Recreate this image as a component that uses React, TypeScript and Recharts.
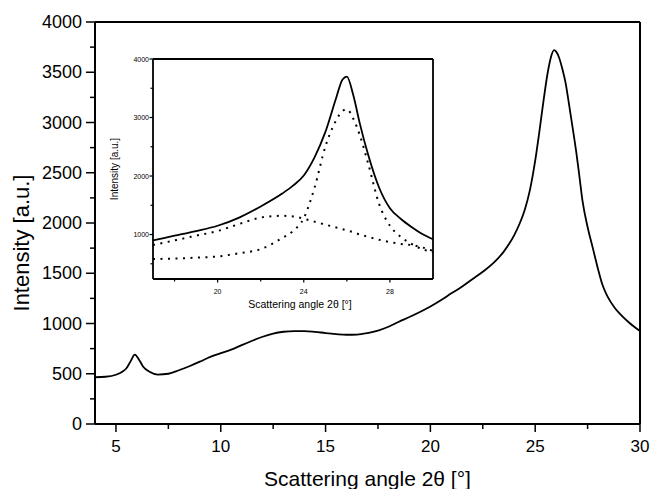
import React from 'react';
import { LineChart, Line, XAxis, YAxis, ReferenceLine } from 'recharts';

// main diffractogram
const angle = [
  4.0, 4.5, 5.0, 5.3, 5.5, 5.7, 5.9, 6.1, 6.3, 6.6, 7.0, 7.5, 8.0, 8.5, 9.0, 9.5,
  10.0, 10.5, 11.0, 11.5, 12.0, 12.5, 13.0, 13.5, 14.0, 14.5, 15.0, 15.5, 16.0, 16.5,
  17.0, 17.5, 18.0, 18.5, 19.0, 19.5, 20.0, 20.5, 21.0, 21.5, 22.0, 22.5, 23.0, 23.5,
  23.75, 24.0, 24.25, 24.5, 24.75, 25.0, 25.2, 25.4, 25.6, 25.75, 25.9, 26.0, 26.15, 26.3,
  26.45, 26.6, 26.8, 26.95, 27.1, 27.25, 27.5, 27.75, 28.0, 28.2, 28.4, 28.6, 28.8, 29.0,
  29.5, 30.0,
];
const intensity = [
  465, 470, 490, 520, 555, 625, 690, 640, 570, 520, 492, 500, 535, 575, 620, 668,
  705, 740, 785, 828, 868, 900, 918, 925, 925, 917, 905, 895, 888, 890,
  905, 930, 968, 1018, 1065, 1115, 1170, 1232, 1300, 1365, 1440, 1515, 1600, 1715,
  1790, 1880, 1990, 2130, 2330, 2620, 2910, 3220, 3500, 3650, 3720, 3705, 3640, 3530,
  3395, 3200, 2930, 2720, 2480, 2230, 1960, 1750, 1540, 1390, 1290, 1215, 1155, 1105,
  1005, 925,
];

// inset: fit of the main peak
const insetAngle = [
  17, 18, 19, 20, 21, 22, 23, 23.5, 24, 24.5, 25, 25.5, 25.8, 26, 26.3, 26.6,
  27, 27.5, 28, 28.5, 29, 29.5, 30,
];
const fitSum = [
  900, 980, 1060, 1150, 1290, 1480, 1700, 1835, 2010, 2320, 2750, 3330, 3650, 3700, 3380, 2900,
  2350, 1800, 1450, 1270, 1130, 1010, 920,
];
const fitPeak = [
  580, 590, 605, 625, 680, 750, 940, 1060, 1280, 1800, 2500, 2950, 3110, 3140, 2980, 2700,
  2200, 1520, 1150, 960, 840, 750, 700,
];
const fitBroad = [
  820, 900, 980, 1060, 1180, 1290, 1320, 1310, 1270, 1220, 1170, 1120, 1090, 1070, 1040, 1000,
  960, 910, 870, 840, 820, 780, 720,
];

const mainXTicks = [5, 7.5, 10, 12.5, 15, 17.5, 20, 22.5, 25, 27.5, 30];
const mainYTicks = [0, 250, 500, 750, 1000, 1250, 1500, 1750, 2000, 2250, 2500, 2750, 3000, 3250, 3500, 3750, 4000];
const insetXTicks = [18, 20, 22, 24, 26, 28];
const insetYTicks = [500, 1000, 1500, 2000, 2500, 3000, 3500, 4000];

const mainData = angle.map((a, i) => ({ angle: a, intensity: intensity[i] }));
const insetData = insetAngle.map((a, i) => ({ angle: a, sum: fitSum[i], peak: fitPeak[i], broad: fitBroad[i] }));

const FONT = 'Arial, "Liberation Sans", sans-serif';

const MainXTick = (props: any) => {
  const { x, y, payload } = props;
  const major = payload.value % 5 === 0;
  return (
    <g>
      <line x1={x} y1={y} x2={x} y2={y + (major ? 8 : 5)} stroke="#000" strokeWidth={1.5} />
      {major && (
        <text x={x} y={y + 28} textAnchor="middle" fontSize={17} fontFamily={FONT} fill="#000">
          {payload.value}
        </text>
      )}
    </g>
  );
};

const MainYTick = (props: any) => {
  const { x, y, payload } = props;
  const major = payload.value % 500 === 0;
  return (
    <g>
      <line x1={x} y1={y} x2={x - (major ? 9 : 5)} y2={y} stroke="#000" strokeWidth={1.5} />
      {major && (
        <text x={x - 13} y={y + 6} textAnchor="end" fontSize={18} fontFamily={FONT} fill="#000">
          {payload.value}
        </text>
      )}
    </g>
  );
};

const InsetXTick = (props: any) => {
  const { x, y, payload } = props;
  const major = payload.value % 4 === 0;
  return (
    <g>
      <line x1={x} y1={y} x2={x} y2={y + (major ? 3.5 : 2.5)} stroke="#000" strokeWidth={1.2} />
      {major && (
        <text x={x} y={y + 15} textAnchor="middle" fontSize={7} fontFamily={FONT} fill="#000">
          {payload.value}
        </text>
      )}
    </g>
  );
};

const InsetYTick = (props: any) => {
  const { x, y, payload } = props;
  const major = payload.value % 1000 === 0;
  return (
    <g>
      <line x1={x} y1={y} x2={x - (major ? 3.5 : 2.5)} y2={y} stroke="#000" strokeWidth={1.2} />
      {major && (
        <text x={x - 4} y={y + 2.5} textAnchor="end" fontSize={7} fontFamily={FONT} fill="#000">
          {payload.value}
        </text>
      )}
    </g>
  );
};

export default function App() {
  return (
    <div style={{ position: 'absolute', left: 0, top: 0, width: 654, height: 489, background: '#fff' }}>
      <LineChart width={654} height={489} data={mainData} margin={{ top: 22, right: 14, bottom: 0, left: 0 }}>
        <XAxis
          dataKey="angle"
          type="number"
          domain={[4, 30]}
          ticks={mainXTicks}
          interval={0}
          height={65}
          tickSize={0}
          tickMargin={0}
          tickLine={false}
          axisLine={{ stroke: '#000', strokeWidth: 2 }}
          tick={(p: any) => <MainXTick {...p} />}
          label={(p: any) => {
            const vb = p.viewBox;
            return (
              <text x={vb.x + vb.width / 2} y={vb.y + 62} textAnchor="middle" fontSize={21} fontFamily={FONT} fill="#000">
                Scattering angle 2θ [°]
              </text>
            );
          }}
        />
        <YAxis
          type="number"
          domain={[0, 4000]}
          ticks={mainYTicks}
          interval={0}
          width={95}
          tickSize={0}
          tickMargin={0}
          tickLine={false}
          axisLine={{ stroke: '#000', strokeWidth: 2 }}
          tick={(p: any) => <MainYTick {...p} />}
          label={(p: any) => {
            const vb = p.viewBox;
            const cx = vb.x + 29;
            const cy = vb.y + vb.height / 2 + 20;
            return (
              <text x={cx} y={cy} transform={`rotate(-90 ${cx} ${cy})`} textAnchor="middle" fontSize={22} fontFamily={FONT} fill="#000">
                Intensity [a.u.]
              </text>
            );
          }}
        />
        <ReferenceLine y={4000} stroke="#000" strokeWidth={2} />
        <ReferenceLine x={30} stroke="#000" strokeWidth={2} />
        <Line type="monotone" dataKey="intensity" stroke="#000" strokeWidth={1.8} dot={false} isAnimationActive={false} />
      </LineChart>

      <div style={{ position: 'absolute', left: 100, top: 50 }}>
        <LineChart width={340} height={270} data={insetData} margin={{ top: 9, right: 7, bottom: 0, left: 0 }}>
          <XAxis
            dataKey="angle"
            type="number"
            domain={[17, 30]}
            ticks={insetXTicks}
            interval={0}
            height={41}
            tickSize={0}
            tickMargin={0}
            tickLine={false}
            axisLine={{ stroke: '#000', strokeWidth: 1.8 }}
            tick={(p: any) => <InsetXTick {...p} />}
            label={(p: any) => {
              const vb = p.viewBox;
              return (
                <text x={vb.x + vb.width / 2 + 7} y={vb.y + 29} textAnchor="middle" fontSize={10.5} fontFamily={FONT} fill="#000">
                  Scattering angle 2θ [°]
                </text>
              );
            }}
          />
          <YAxis
            type="number"
            domain={[240, 4000]}
            ticks={insetYTicks}
            interval={0}
            width={53}
            tickSize={0}
            tickMargin={0}
            tickLine={false}
            axisLine={{ stroke: '#000', strokeWidth: 1.8 }}
            tick={(p: any) => <InsetYTick {...p} />}
            label={(p: any) => {
              const vb = p.viewBox;
              const cx = vb.x + 18;
              const cy = vb.y + vb.height / 2;
              return (
                <text x={cx} y={cy} transform={`rotate(-90 ${cx} ${cy})`} textAnchor="middle" fontSize={10} fontFamily={FONT} fill="#000">
                  Intensity [a.u.]
                </text>
              );
            }}
          />
          <ReferenceLine y={4000} stroke="#000" strokeWidth={1.8} />
          <ReferenceLine x={30} stroke="#000" strokeWidth={1.8} />
          <Line type="monotone" dataKey="sum" stroke="#000" strokeWidth={1.8} dot={false} isAnimationActive={false} />
          <Line type="monotone" dataKey="peak" stroke="#000" strokeWidth={2} strokeDasharray="2 5.5" dot={false} isAnimationActive={false} />
          <Line type="monotone" dataKey="broad" stroke="#000" strokeWidth={2} strokeDasharray="2 5.5" dot={false} isAnimationActive={false} />
        </LineChart>
      </div>
    </div>
  );
}
